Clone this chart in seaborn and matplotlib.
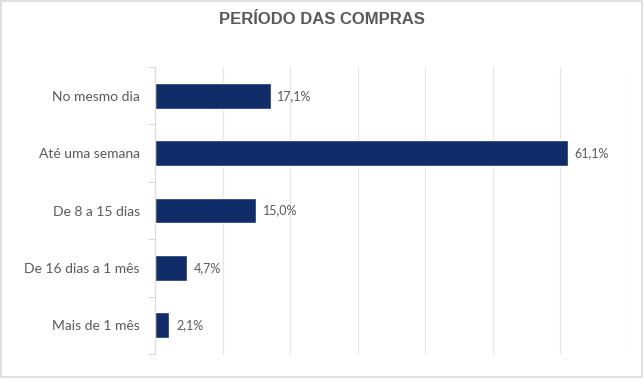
import matplotlib.pyplot as plt
import seaborn as sns
import numpy as np
import pandas as pd
from matplotlib.ticker import MultipleLocator, FixedLocator
from matplotlib.patches import Rectangle

categories = ["No mesmo dia", "Até uma semana", "De 8 a 15 dias", "De 16 dias a 1 mês", "Mais de 1 mês"]
values = [17.1, 61.1, 15.0, 4.7, 2.1]
labels = ["17,1%", "61,1%", "15,0%", "4,7%", "2,1%"]

df = pd.DataFrame({"periodo": categories, "pct": values})

sns.set_theme(style="white")
plt.rcParams["font.family"] = ["Lato", "DejaVu Sans"]

fig = plt.figure(figsize=(6.44, 3.84), dpi=100)
ax = fig.add_axes([155 / 644, 1 - 354 / 384, (628 - 155) / 644, (354 - 67) / 384])

sns.barplot(data=df, x="pct", y="periodo", color="#102d69", width=0.45, ax=ax, saturation=1)

ax.set_xlim(0, 70)
ax.xaxis.set_major_locator(MultipleLocator(10))
ax.grid(axis="x", color="#e6e6e6", linewidth=0.8)
ax.set_axisbelow(True)
ax.set_xticklabels([])
ax.tick_params(axis="x", length=0)
ax.set_xlabel("")
ax.set_ylabel("")

for s in ["top", "right", "bottom"]:
    ax.spines[s].set_visible(False)
ax.spines["left"].set_color("#d9d9d9")
ax.spines["left"].set_linewidth(0.8)

# categories top to bottom, ticks sit between them
ax.set_ylim(len(categories) - 0.5, -0.5)
ax.tick_params(axis="y", which="major", length=0, pad=11, labelsize=10, labelcolor="#595959")
ax.yaxis.set_minor_locator(FixedLocator(np.arange(-0.5, len(categories), 1.0)))
ax.tick_params(axis="y", which="minor", length=5, color="#d9d9d9", width=0.8, left=True)

for i, (v, lab) in enumerate(zip(values, labels)):
    ax.text(v + 1.0, i, lab, va="center", ha="left", fontsize=9, color="#595959")

fig.text(0.5, 1 - 20 / 384, "PERÍODO DAS COMPRAS", ha="center", va="center",
         fontsize=12, fontweight="bold", color="#595959", family=["Liberation Sans", "DejaVu Sans"])

fig.patches.append(Rectangle((0.002, 7 / 384), 0.995, 1 - 8 / 384, transform=fig.transFigure,
                             fill=False, edgecolor="#d9d9d9", linewidth=1.2))

fig.savefig("out.png", dpi=100)
